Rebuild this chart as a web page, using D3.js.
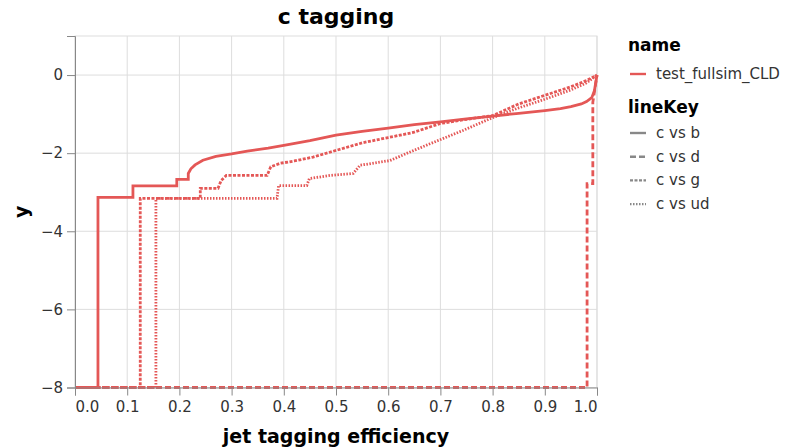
<!DOCTYPE html>
<html><head><meta charset="utf-8">
<script src="https://cdn.jsdelivr.net/npm/d3@7"></script>
<style>body{margin:0;background:#fff}svg{display:block}text{font-family:"DejaVu Sans",Verdana,sans-serif}</style>
</head><body><svg id="c" width="804" height="448"></svg>
<script>
const title = "c tagging";
const nameKey = "test_fullsim_CLD";
const lineKeys = ["c vs b", "c vs d", "c vs g", "c vs ud"];
const xTicks = [0,0.1,0.2,0.3,0.4,0.5,0.6,0.7,0.8,0.9,1.0];
const yTicks = [0,-2,-4,-6,-8];

const effB = [0,0.044,0.044,0.111,0.111,0.195,0.195,0.217,0.217,0.222,0.23,0.245,0.27,0.3,0.33,0.37,0.4,0.45,0.5,0.55,0.6,0.65,0.7,0.75,0.8,0.85,0.9,0.93,0.95,0.97,0.98,0.99,0.995,1.0];
const valB = [-8,-8,-3.13,-3.13,-2.84,-2.84,-2.67,-2.67,-2.52,-2.4,-2.3,-2.18,-2.08,-2.02,-1.95,-1.87,-1.8,-1.68,-1.54,-1.44,-1.36,-1.27,-1.2,-1.12,-1.05,-0.98,-0.91,-0.86,-0.81,-0.74,-0.68,-0.58,-0.4,0];

const effD = [0,0.981,0.981,0.992,0.992,1.0];
const valD = [-8,-8,-2.78,-2.78,-0.7,0];

const effG = [0,0.125,0.125,0.24,0.24,0.274,0.28,0.29,0.368,0.375,0.393,0.42,0.456,0.5,0.552,0.6,0.648,0.7,0.762,0.8,0.85,0.9,0.95,0.98,1.0];
const valG = [-8,-8,-3.16,-3.16,-2.9,-2.9,-2.7,-2.57,-2.57,-2.35,-2.26,-2.2,-2.1,-1.93,-1.73,-1.6,-1.47,-1.24,-1.11,-1.04,-0.74,-0.52,-0.3,-0.14,0];

const effUD = [0,0.155,0.155,0.387,0.39,0.444,0.449,0.489,0.533,0.546,0.603,0.64,0.68,0.743,0.8,0.85,0.9,0.95,0.98,1.0];
const valUD = [-8,-8,-3.16,-3.16,-2.83,-2.83,-2.65,-2.57,-2.52,-2.31,-2.19,-1.98,-1.76,-1.42,-1.09,-0.84,-0.62,-0.38,-0.2,0];

const series = [
  {key: lineKeys[0], x: effB, y: valB},
  {key: lineKeys[1], x: effD, y: valD},
  {key: lineKeys[2], x: effG, y: valG},
  {key: lineKeys[3], x: effUD, y: valUD}
];
const dashes = {"c vs b": null, "c vs d": "6,3", "c vs g": "3,1.5", "c vs ud": "1.5,1.5"};
const red = "#e45756";

const svg = d3.select("#c");
const L = 75, R = 597, T = 36, B = 387.5;
const x = d3.scaleLinear().domain([0,1]).range([L,R]);
const y = d3.scaleLinear().domain([-8,1]).range([B,T]);

// grid
const g = svg.append("g");
g.selectAll(".gx").data(xTicks).join("line")
  .attr("x1", d=>x(d)).attr("x2", d=>x(d)).attr("y1", T).attr("y2", B)
  .attr("stroke", "#ddd").attr("stroke-width", 1);
g.selectAll(".gy").data(yTicks).join("line")
  .attr("x1", L).attr("x2", R).attr("y1", d=>y(d)).attr("y2", d=>y(d))
  .attr("stroke", "#ddd").attr("stroke-width", 1);
// view border
svg.append("rect").attr("x", L).attr("y", T).attr("width", R-L).attr("height", B-T)
  .attr("fill", "none").attr("stroke", "#ddd");

// lines
const line = d3.line().x(d=>x(d[0])).y(d=>y(d[1]));
svg.append("defs").append("clipPath").attr("id","clp").append("rect")
  .attr("x", L-3).attr("y", T).attr("width", R-L+6).attr("height", B-T+3);
svg.append("g").attr("clip-path","url(#clp)").selectAll("path").data(series).join("path")
  .attr("d", s => line(s.x.map((v,i)=>[v, s.y[i]])))
  .attr("fill", "none").attr("stroke", red).attr("stroke-width", 2.8)
  .attr("stroke-dasharray", s => dashes[s.key]);

// axes
const xa = svg.append("g").attr("transform", `translate(0,${B})`)
  .call(d3.axisBottom(x).tickValues(xTicks).tickFormat(d3.format(".1f")).tickSize(8).tickPadding(6));
xa.select(".domain").attr("stroke", "#888");
xa.selectAll(".tick line").attr("stroke", "#888");
xa.selectAll(".tick text").attr("font-size", 15).attr("fill", "#333")
  .attr("font-family", "DejaVu Sans")
  .attr("text-anchor", (d,i) => i===0 ? "start" : (i===xTicks.length-1 ? "end" : "middle"));

const ya = svg.append("g").attr("transform", `translate(${L},0)`)
  .call(d3.axisLeft(y).tickValues(yTicks).tickFormat(d3.format("d")).tickSize(8).tickPadding(4));
ya.select(".domain").attr("stroke", "#888");
ya.selectAll(".tick line").attr("stroke", "#888");
ya.selectAll(".tick text").attr("font-size", 15).attr("fill", "#333").attr("font-family", "DejaVu Sans");

svg.append("text").attr("x", (L+R)/2).attr("y", 443).attr("text-anchor","middle")
  .attr("font-size", 19).attr("font-weight","bold").text("jet tagging efficiency");
svg.append("text").attr("transform", `translate(28,${(T+B)/2}) rotate(-90)`).attr("text-anchor","middle")
  .attr("font-size", 19).attr("font-weight","bold").text("y");
svg.append("text").attr("x", (L+R)/2).attr("y", 24).attr("text-anchor","middle")
  .attr("font-size", 22).attr("font-weight","bold").text(title);

// legend
const lg = svg.append("g");
lg.append("text").attr("x", 628).attr("y", 51).attr("font-size", 17).attr("font-weight","bold").text("name");
lg.append("line").attr("x1", 630).attr("x2", 646).attr("y1", 74).attr("y2", 74)
  .attr("stroke", red).attr("stroke-width", 2.4);
lg.append("text").attr("x", 656).attr("y", 79).attr("font-size", 15).attr("fill","#333").text(nameKey);
lg.append("text").attr("x", 628).attr("y", 113).attr("font-size", 17).attr("font-weight","bold").text("lineKey");
const ent = lg.selectAll(".e").data(lineKeys).join("g")
  .attr("transform", (d,i)=>`translate(0,${133 + i*23.7})`);
ent.append("line").attr("x1", 630).attr("x2", 646).attr("y1", 0).attr("y2", 0)
  .attr("stroke", "#888").attr("stroke-width", 2.4).attr("stroke-dasharray", d=>dashes[d]);
ent.append("text").attr("x", 656).attr("y", 5).attr("font-size", 15).attr("fill","#333").text(d=>d);
</script></body></html>
